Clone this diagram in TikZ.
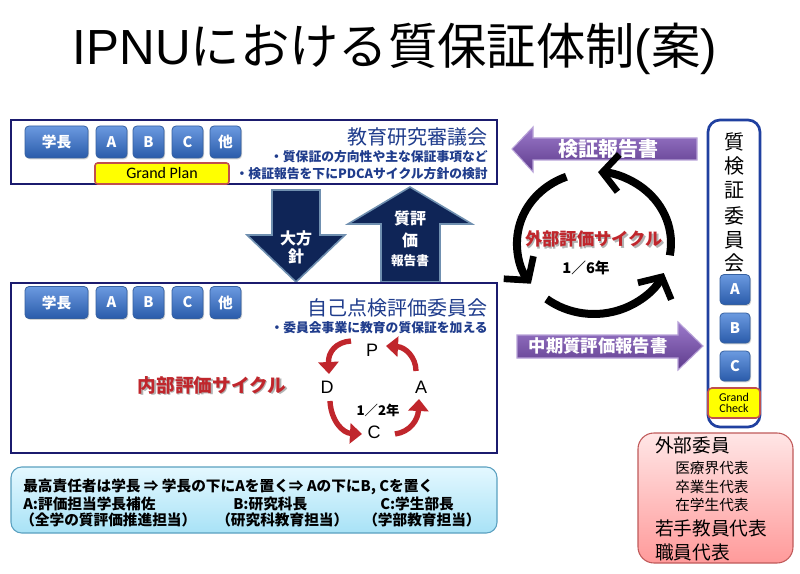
\documentclass[tikz,border=0pt]{standalone}
\usepackage{fontspec}
\setmainfont{Noto Sans CJK JP}
\newfontfamily\lsans{Liberation Sans}
\newfontfamily\carl{Carlito}
\usetikzlibrary{arrows.meta,shadows}
\definecolor{navy}{HTML}{1B1B6E}
\definecolor{comblue}{HTML}{1F3C8C}
\definecolor{btntop}{HTML}{6B9AE0}
\definecolor{btnbot}{HTML}{2A5BAA}
\definecolor{btnline}{HTML}{3560A0}
\definecolor{arrnavy}{HTML}{0F2557}
\definecolor{arrline}{HTML}{7090B0}
\definecolor{purtop}{HTML}{9C7ACB}
\definecolor{purbot}{HTML}{5E3B8C}
\definecolor{purline}{HTML}{B8A2D8}
\definecolor{cycred}{HTML}{C0262C}
\definecolor{gpyellow}{HTML}{FFFF00}
\definecolor{gpred}{HTML}{C0504D}
\definecolor{infotop}{HTML}{E4F8FF}
\definecolor{infobot}{HTML}{A8E2F6}
\definecolor{infoline}{HTML}{5AA0C0}
\definecolor{pinktop}{HTML}{FFE6E6}
\definecolor{pinkbot}{HTML}{FF9A9A}
\definecolor{pinkline}{HTML}{C05A5A}
\definecolor{colblue}{HTML}{2040A0}
\newcommand{\fs}[1]{\fontsize{#1}{#1}\selectfont}
\begin{document}
\begin{tikzpicture}[x=0.75pt,y=-0.75pt,
  btn/.style={rounded corners=3pt, top color=btntop, bottom color=btnbot, draw=btnline, line width=0.6pt,
    text=white, font=\bfseries\fs{11}, minimum height=24pt, minimum width=23.25pt, inner sep=0pt,
    drop shadow={opacity=0.35,shadow xshift=0.8pt,shadow yshift=-1pt}},
  wbtn/.style={btn, minimum width=47.25pt},
  cbtn/.style={btn, minimum width=22.5pt, minimum height=22.5pt},
  frame/.style={draw=navy, line width=2pt, fill=white},
  comtitle/.style={text=comblue, font=\fs{15}, inner sep=0pt, anchor=east},
  bul/.style={text=comblue, font=\bfseries\fs{9.6}, inner sep=0pt, anchor=east},
  bigarr/.style={fill=arrnavy, draw=arrline, line width=1.2pt},
  wtxt/.style={text=white, font=\bfseries\fs{12}, inner sep=0pt},
  purarr/.style={top color=purtop, bottom color=purbot, draw=purline, line width=0.8pt},
  pdca/.style={font=\lsans\fs{13.5}, inner sep=0pt},
  redarr/.style={draw=cycred, line width=4pt, -{Triangle[length=9pt,width=15pt]}},
  extarr/.style={draw=black, line width=6pt, -{Straight Barb[length=12pt,width=28pt,line width=5pt]}},
  redtitle/.style={text=cycred, font=\bfseries\fs{14}, inner sep=0pt},
  shadowtxt/.style={text=black!30, font=\bfseries\fs{14}, inner sep=0pt},
  info/.style={font=\bfseries\fs{11}, inner sep=0pt, anchor=west},
  vch/.style={font=\fs{15}, inner sep=0pt},
  pinkbig/.style={font=\fs{14}, inner sep=0pt, anchor=west},
  pinksmall/.style={font=\fs{11}, inner sep=0pt, anchor=west}
]
\useasboundingbox (0,0) rectangle (800,574);
\fill[white] (0,0) rectangle (800,574);

% title
\node[font=\fs{37}, inner sep=0pt] (title) at (395,49) {{\lsans IPNU}における質保証体制{\lsans (}案{\lsans )}};

% box 1
\draw[frame] (11,120) rectangle (497,184);
\node[wbtn] (b1gak) at (56.5,142) {学長};
\node[btn] (b1a) at (111.5,142) {A};
\node[btn] (b1b) at (148.5,142) {B};
\node[btn] (b1c) at (187.5,142) {C};
\node[btn] (b1o) at (225.5,142) {他};
\node[fill=gpyellow, draw=gpred, line width=1.2pt, rounded corners=2pt, minimum width=100.5pt, minimum height=15.75pt, inner sep=0pt, font=\carl\fs{12}] (gplan) at (162,173.5) {Grand Plan};
\node[comtitle] (kyoken) at (488,137) {教育研究審議会};
\node[bul] (kb1) at (488,156.5) {・質保証の方向性や主な保証事項など};
\node[bul] (kb2) at (488,173.5) {・検証報告を下にPDCAサイクル方針の検討};

% big arrows
\draw[bigarr] (272,190) -- (320,190) -- (320,235) -- (345,235) -- (296,282) -- (247,235) -- (272,235) -- cycle;
\node[wtxt] (dai1) at (296,238) {大方};
\node[wtxt] (dai2) at (296,256) {針};
\draw[bigarr] (410,187) -- (472,224) -- (440,224) -- (440,282) -- (381,282) -- (381,224) -- (348,224) -- cycle;
\node[wtxt] (shi1) at (410,218) {質評};
\node[wtxt] (shi2) at (410,240) {価};
\node[wtxt, font=\bfseries\fs{9.5}] (shi3) at (410,261) {報告書};

% box 2
\draw[frame] (11,283) rectangle (497,453);
\node[wbtn] (b2gak) at (56.5,302.5) {学長};
\node[btn] (b2a) at (111.5,302.5) {A};
\node[btn] (b2b) at (148.5,302.5) {B};
\node[btn] (b2c) at (187.5,302.5) {C};
\node[btn] (b2o) at (225.5,302.5) {他};
\node[comtitle] (jiko) at (488,308) {自己点検評価委員会};
\node[bul] (jb1) at (488,328) {・委員会事業に教育の質保証を加える};

% PDCA
\node[pdca] (P) at (372,350) {P};
\node[pdca] (D) at (327,387) {D};
\node[pdca] (A) at (421,387) {A};
\node[pdca] (C) at (374,432) {C};
\node[font=\bfseries\fs{10}, inner sep=0pt] (half) at (378,410) {1／2年};
\coordinate (pd1) at (351,341);
\coordinate (pd2) at (329,374);
\coordinate (dc1) at (330,401);
\coordinate (dc2) at (362,434);
\coordinate (ca1) at (395,434);
\coordinate (ca2) at (419,399);
\coordinate (ap1) at (416,371);
\coordinate (ap2) at (386,346);
\draw[redarr] (pd1) .. controls (336,342) and (328,352) .. (pd2);
\draw[redarr] (dc1) .. controls (331,421) and (343,433) .. (dc2);
\draw[redarr] (ca1) .. controls (410,432) and (418,420) .. (ca2);
\draw[redarr] (ap1) .. controls (416,357) and (405,347) .. (ap2);
\node[shadowtxt] (innsh) at (213.5,386.5) {内部評価サイクル};
\node[redtitle] (inner) at (212,385) {内部評価サイクル};

% info box
\shade[top color=infotop, bottom color=infobot, draw=infoline, line width=0.8pt, rounded corners=8pt] (11,467) rectangle (497,533);
\node[info] (i1) at (23,487) {最高責任者は学長 ⇒ 学長の下にAを置く⇒ Aの下にB, Cを置く};
\node[info] (i2a) at (23,503.5) {A:評価担当学長補佐};
\node[info] (i2b) at (233,503.5) {B:研究科長};
\node[info] (i2c) at (380,503.5) {C:学生部長};
\node[info] (i3a) at (20,520) {（全学の質評価推進担当）};
\node[info] (i3b) at (216,520) {（研究科教育担当）};
\node[info] (i3c) at (363,520) {（学部教育担当）};

% purple arrows
\shade[purarr] (512,149) -- (533,127) -- (533,138) -- (697,138) -- (697,160) -- (533,160) -- (533,172) -- cycle;
\node[wtxt, font=\bfseries\fs{15}] (kensho) at (608,149) {検証報告書};
\shade[purarr] (517,335) -- (678,335) -- (678,322) -- (703,346) -- (678,370) -- (678,358) -- (517,358) -- cycle;
\node[wtxt, font=\bfseries\fs{13}] (chuki) at (598,346) {中期質評価報告書};

% external cycle
\coordinate (ec) at (594,243);
\draw[extarr] ([shift={(-111:77 and 71)}]ec) arc[start angle=-111, end angle=-215, x radius=77, y radius=71];
\draw[extarr] ([shift={(-232:77 and 71)}]ec) arc[start angle=-232, end angle=-335, x radius=77, y radius=71];
\draw[extarr] ([shift={(-350:77 and 71)}]ec) arc[start angle=-350, end angle=-447, x radius=77, y radius=71];
\node[text=black!30, font=\bfseries\fs{13}, inner sep=0pt] (extsh) at (595.5,240.5) {外部評価サイクル};
\node[text=cycred, font=\bfseries\fs{13}, inner sep=0pt] (exttitle) at (594,239) {外部評価サイクル};
\node[font=\bfseries\fs{11}, inner sep=0pt] (six) at (586,268) {1／6年};

% right column
\draw[draw=colblue, line width=2pt, fill=white, rounded corners=9pt] (708,120) rectangle (760,427);
\node[vch] (v1) at (734,142) {質};
\node[vch] (v2) at (734,166) {検};
\node[vch] (v3) at (734,190) {証};
\node[vch] (v4) at (734,216) {委};
\node[vch] (v5) at (734,240) {員};
\node[vch] (v6) at (734,263) {会};
\node[cbtn] (ra) at (735,289.5) {A};
\node[cbtn] (rb) at (735,328) {B};
\node[cbtn] (rc) at (735,366) {C};
\node[fill=gpyellow, draw=gpred, line width=1.2pt, rounded corners=3pt, minimum width=39pt, minimum height=22.5pt, inner sep=0pt, align=center, font=\carl\fs{9}] (gcheck) at (734,403) {Grand\\[-1pt]Check};

% pink box
\shade[top color=pinktop, bottom color=pinkbot, draw=pinkline, line width=0.8pt, rounded corners=12pt] (638,433) rectangle (793,563);
\node[pinkbig] (p1) at (655,445) {外部委員};
\node[pinksmall] (p2) at (675,468) {医療界代表};
\node[pinksmall] (p3) at (675,487) {卒業生代表};
\node[pinksmall] (p4) at (675,505) {在学生代表};
\node[pinkbig] (p5) at (655,528) {若手教員代表};
\node[pinkbig] (p6) at (655,552) {職員代表};
\end{tikzpicture}
\end{document}
